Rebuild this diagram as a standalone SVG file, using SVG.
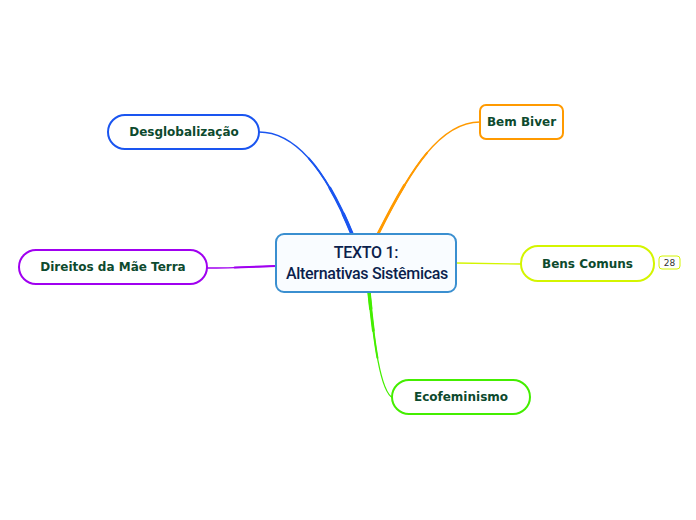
<svg xmlns="http://www.w3.org/2000/svg" width="696" height="520" viewBox="0 0 696 520">
<style>
.node{fill:#ffffff;stroke-width:2}
.lbl{font-family:"DejaVu Sans",Verdana,sans-serif;font-weight:bold;font-size:12px;fill:#0d4a2e;text-anchor:middle;dominant-baseline:central}
.ctr{font-family:Roboto,"Liberation Sans",sans-serif;font-weight:500;font-size:16px;fill:#0b1f4d;text-anchor:middle;letter-spacing:-0.3px}
.c{fill:none;stroke-linecap:round}
.w1{stroke-width:1.3}
.w2{stroke-width:2;stroke-dasharray:60 200}
.w3{stroke-width:2.8;stroke-dasharray:35 200}
.w4{stroke-width:3.4;stroke-dasharray:15 200}
</style>
<defs>
<path id="pb" d="M352,234 C330,180 300,132 259,132"/>
<path id="po" d="M378,234 C410,170 440,122 480,122"/>
<path id="pp" d="M276,266 C250,267 230,268 207,268"/>
<path id="pg" d="M369,292 C374,340 380,392 393,398"/>
</defs>
<rect width="696" height="520" fill="#ffffff"/>
<g id="connectors">
<g stroke="#1a55f0">
<path class="c w1" d="M352,234 C330,180 300,132 259,132"/>
<path class="c w2" pathLength="100" d="M352,234 C330,180 300,132 259,132"/>
<path class="c w3" pathLength="100" d="M352,234 C330,180 300,132 259,132"/>
<path class="c w4" pathLength="100" d="M352,234 C330,180 300,132 259,132"/>
</g>
<g stroke="#ff9a00">
<path class="c w1" d="M378,234 C410,170 440,122 480,122"/>
<path class="c w2" pathLength="100" d="M378,234 C410,170 440,122 480,122"/>
<path class="c w3" pathLength="100" d="M378,234 C410,170 440,122 480,122"/>
</g>
<path class="c w1" stroke="#d4f500" d="M456,263 L521,264"/>
<g stroke="#a000f0">
<path class="c w1" d="M276,266 C250,267 230,268 207,268"/>
<path class="c w2" pathLength="100" d="M276,266 C250,267 230,268 207,268"/>
</g>
<g stroke="#44ee00">
<path class="c w1" d="M369,292 C374,340 380,392 393,398"/>
<path class="c w2" pathLength="100" d="M369,292 C374,340 380,392 393,398"/>
<path class="c w3" pathLength="100" d="M369,292 C374,340 380,392 393,398"/>
<path class="c w4" pathLength="100" d="M369,292 C374,340 380,392 393,398"/>
</g>
</g>
<g id="center">
<rect x="276" y="234" width="180" height="58" rx="8" fill="#f9fcff" stroke="#3a8fd0" stroke-width="2"/>
<text class="ctr" x="366" y="258">TEXTO 1:</text>
<text class="ctr" x="367" y="279">Alternativas Sistêmicas</text>
</g>
<g id="desglobalizacao">
<rect class="node" x="108" y="115" width="151" height="34" rx="17" stroke="#1a55f0"/>
<text class="lbl" x="184" y="132">Desglobalização</text>
</g>
<g id="bem-biver">
<rect class="node" x="480" y="105" width="83" height="34" rx="6" stroke="#ff9a00"/>
<text class="lbl" x="521.5" y="122">Bem Biver</text>
</g>
<g id="bens-comuns">
<rect class="node" x="521" y="246" width="133" height="35" rx="17" stroke="#d4f500"/>
<text class="lbl" x="587.5" y="263.5">Bens Comuns</text>
<rect x="659" y="256" width="21" height="13" rx="3" fill="#ffffff" stroke="#d4f500" stroke-width="1"/>
<text x="669.5" y="262.5" font-family="'DejaVu Sans',sans-serif" font-size="9" fill="#333333" text-anchor="middle" dominant-baseline="central">28</text>
</g>
<g id="direitos">
<rect class="node" x="19" y="250" width="188" height="34" rx="17" stroke="#a000f0"/>
<text class="lbl" x="113" y="267">Direitos da Mãe Terra</text>
</g>
<g id="ecofeminismo">
<rect class="node" x="392" y="380" width="138" height="34" rx="17" stroke="#44ee00"/>
<text class="lbl" x="461" y="397">Ecofeminismo</text>
</g>
</svg>
